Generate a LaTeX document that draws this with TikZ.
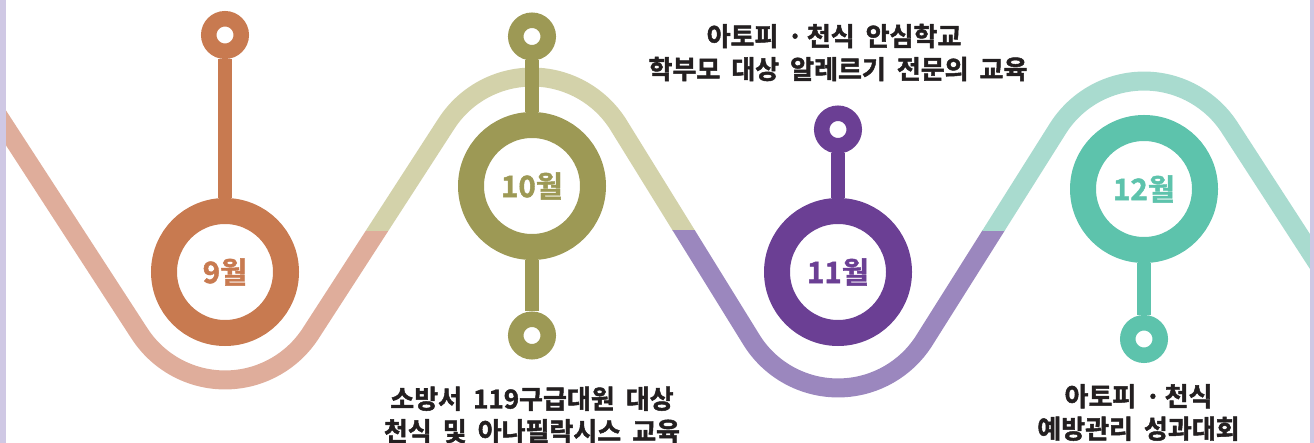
\documentclass[tikz,border=0pt]{standalone}
\usepackage{fontspec}
\newfontfamily\kr{Noto Sans CJK KR Bold}[FakeBold=1.8]
\newfontfamily\krm{Noto Sans CJK KR Bold}[FakeBold=1.5]
\definecolor{d9}{HTML}{C87A50}
\definecolor{l9}{HTML}{DFAD9B}
\definecolor{d10}{HTML}{9D9955}
\definecolor{l10}{HTML}{D3D2AA}
\definecolor{d11}{HTML}{6B3F94}
\definecolor{l11}{HTML}{9B87BE}
\definecolor{d12}{HTML}{5DC3AC}
\definecolor{l12}{HTML}{A9DBCF}
\definecolor{frame}{HTML}{CFC8E4}
\definecolor{txt}{HTML}{231F20}
\newcommand\ws{\hspace{11pt}}
\newcommand\mdot{\hspace{9pt}·\hspace{4pt}}
\newcommand\wavepath{(-2,115.6) -- (139.5,333.5) arc[start angle=213,end angle=327,radius=102pt]
  -- (446.5,123.5) arc[start angle=147,end angle=33,radius=102pt]
  -- (752.5,341.5) arc[start angle=213,end angle=327,radius=102pt]
  -- (1058.5,127.5) arc[start angle=147,end angle=33,radius=102pt]
  -- (1320,267)}
\begin{document}
\begin{tikzpicture}[x=1pt,y=-1pt,
  wave/.style={line width=19pt},
  bigring/.style={circle, draw, fill=white, line width=26pt, minimum size=122pt, inner sep=0pt,
    font=\krm\fontsize{29.5}{29.5}\selectfont},
  pin/.style={circle, draw, fill=white, line width=15.5pt, minimum size=32.5pt, inner sep=0pt},
  stem/.style={line width=14pt},
  label/.style={align=center, inner sep=0pt, text=txt, font=\kr\fontsize{26}{32.5}\selectfont}]
\useasboundingbox (0,0) rectangle (1314,443);
% wave, coloured by region
\begin{scope}
  \clip (-5,-5) -- (225,-5) -- (225,231) -- (532,231) -- (532,450) -- (-5,450) -- cycle;
  \draw[wave, l9] \wavepath;
\end{scope}
\begin{scope}
  \clip (225,-5) rectangle (838,231);
  \draw[wave, l10] \wavepath;
\end{scope}
\begin{scope}
  \clip (532,231) rectangle (1144,450);
  \draw[wave, l11] \wavepath;
\end{scope}
\begin{scope}
  \clip (838,-5) -- (1320,-5) -- (1320,450) -- (1144,450) -- (1144,231) -- (838,231) -- cycle;
  \draw[wave, l12] \wavepath;
\end{scope}
% rings and pins
\node[bigring, draw=d9, text=d9] (m9) at (225,272) {9월};
\node[pin, draw=d9] (p9) at (225,35) {};
\draw[stem, d9] (p9) -- (m9);
\node[bigring, draw=d10, text=d10] (m10) at (532,186) {10월};
\node[pin, draw=d10] (p10a) at (532,36.5) {};
\node[pin, draw=d10] (p10b) at (532,335.5) {};
\draw[stem, d10] (p10a) -- (m10);
\draw[stem, d10] (m10) -- (p10b);
\node[bigring, draw=d11, text=d11] (m11) at (838,272) {11월};
\node[pin, draw=d11] (p11) at (838,129.5) {};
\draw[stem, d11] (p11) -- (m11);
\node[bigring, draw=d12, text=d12] (m12) at (1144,189) {12월};
\node[pin, draw=d12] (p12) at (1144,339) {};
\draw[stem, d12] (m12) -- (p12);
% texts
\node[label] (t11a) at (834,36) {아토피\mdot 천식\ws 안심학교};
\node[label] (t11b) at (838,69) {학부모\ws 대상\ws 알레르기\ws 전문의\ws 교육};
\node[label] (t10) at (532,415) {소방서\ws 119구급대원\ws 대상\\천식\ws 및\ws 아나필락시스\ws 교육};
\node[label] (t12) at (1138.5,412.5) {아토피\mdot 천식\\예방관리\ws 성과대회};
% side bands
\fill[frame] (0,0) rectangle (6,443);
\fill[frame] (1309.5,0) rectangle (1314,443);
\end{tikzpicture}
\end{document}
